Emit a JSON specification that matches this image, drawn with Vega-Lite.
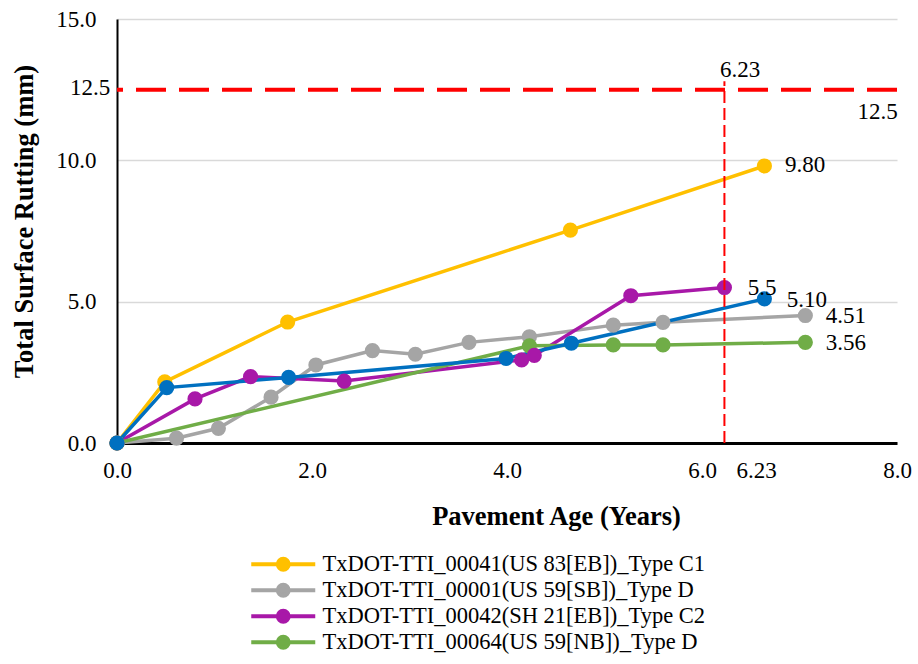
{
  "$schema": "https://vega.github.io/schema/vega-lite/v6.json",
  "autosize": "none",
  "width": 780,
  "height": 424,
  "padding": {"left": 117, "top": 19, "right": 21, "bottom": 221},
  "background": "white",
  "config": {
    "font": "Liberation Serif",
    "view": {"stroke": null},
    "axis": {"labelFont": "Liberation Serif", "titleFont": "Liberation Serif", "labelColor": "black", "titleColor": "black"},
    "text": {"font": "Liberation Serif"}
  },
  "datasets": {
    "series": [
      {"series": "TxDOT-TTI_00041(US 83[EB])_Type C1", "age": 0, "rut": 0},
      {"series": "TxDOT-TTI_00041(US 83[EB])_Type C1", "age": 0.49, "rut": 2.16},
      {"series": "TxDOT-TTI_00041(US 83[EB])_Type C1", "age": 1.75, "rut": 4.28},
      {"series": "TxDOT-TTI_00041(US 83[EB])_Type C1", "age": 4.65, "rut": 7.53},
      {"series": "TxDOT-TTI_00041(US 83[EB])_Type C1", "age": 6.64, "rut": 9.80},
      {"series": "TxDOT-TTI_00001(US 59[SB])_Type D", "age": 0, "rut": 0},
      {"series": "TxDOT-TTI_00001(US 59[SB])_Type D", "age": 0.61, "rut": 0.17},
      {"series": "TxDOT-TTI_00001(US 59[SB])_Type D", "age": 1.04, "rut": 0.52},
      {"series": "TxDOT-TTI_00001(US 59[SB])_Type D", "age": 1.58, "rut": 1.62},
      {"series": "TxDOT-TTI_00001(US 59[SB])_Type D", "age": 2.04, "rut": 2.76},
      {"series": "TxDOT-TTI_00001(US 59[SB])_Type D", "age": 2.62, "rut": 3.27},
      {"series": "TxDOT-TTI_00001(US 59[SB])_Type D", "age": 3.06, "rut": 3.14},
      {"series": "TxDOT-TTI_00001(US 59[SB])_Type D", "age": 3.61, "rut": 3.56},
      {"series": "TxDOT-TTI_00001(US 59[SB])_Type D", "age": 4.23, "rut": 3.76},
      {"series": "TxDOT-TTI_00001(US 59[SB])_Type D", "age": 5.09, "rut": 4.17},
      {"series": "TxDOT-TTI_00001(US 59[SB])_Type D", "age": 5.60, "rut": 4.27},
      {"series": "TxDOT-TTI_00001(US 59[SB])_Type D", "age": 7.06, "rut": 4.51},
      {"series": "TxDOT-TTI_00042(SH 21[EB])_Type C2", "age": 0, "rut": 0},
      {"series": "TxDOT-TTI_00042(SH 21[EB])_Type C2", "age": 0.80, "rut": 1.56},
      {"series": "TxDOT-TTI_00042(SH 21[EB])_Type C2", "age": 1.37, "rut": 2.35},
      {"series": "TxDOT-TTI_00042(SH 21[EB])_Type C2", "age": 2.33, "rut": 2.19},
      {"series": "TxDOT-TTI_00042(SH 21[EB])_Type C2", "age": 4.15, "rut": 2.94},
      {"series": "TxDOT-TTI_00042(SH 21[EB])_Type C2", "age": 4.28, "rut": 3.10},
      {"series": "TxDOT-TTI_00042(SH 21[EB])_Type C2", "age": 5.27, "rut": 5.21},
      {"series": "TxDOT-TTI_00042(SH 21[EB])_Type C2", "age": 6.23, "rut": 5.50},
      {"series": "TxDOT-TTI_00064(US 59[NB])_Type D", "age": 0, "rut": 0},
      {"series": "TxDOT-TTI_00064(US 59[NB])_Type D", "age": 4.23, "rut": 3.44},
      {"series": "TxDOT-TTI_00064(US 59[NB])_Type D", "age": 5.09, "rut": 3.47},
      {"series": "TxDOT-TTI_00064(US 59[NB])_Type D", "age": 5.60, "rut": 3.47},
      {"series": "TxDOT-TTI_00064(US 59[NB])_Type D", "age": 7.06, "rut": 3.56},
      {"series": "Section 5", "age": 0, "rut": 0},
      {"series": "Section 5", "age": 0.51, "rut": 1.96},
      {"series": "Section 5", "age": 1.76, "rut": 2.32},
      {"series": "Section 5", "age": 3.99, "rut": 2.99},
      {"series": "Section 5", "age": 4.66, "rut": 3.53},
      {"series": "Section 5", "age": 6.64, "rut": 5.10}
    ],
    "labelsLeft": [
      {"age": 6.85, "rut": 9.83, "text": "9.80"},
      {"age": 6.47, "rut": 5.48, "text": "5.5"},
      {"age": 6.87, "rut": 5.06, "text": "5.10"},
      {"age": 7.27, "rut": 4.49, "text": "4.51"},
      {"age": 7.27, "rut": 3.54, "text": "3.56"}
    ],
    "labelsCenter": [
      {"age": 7.80, "rut": 11.71, "text": "12.5"},
      {"age": 6.39, "rut": 13.19, "text": "6.23"},
      {"age": 6.56, "rut": -0.98, "text": "6.23"}
    ],
    "labelsRight": [
      {"age": -0.07, "rut": 12.56, "text": "12.5"}
    ]
  },
  "layer": [
    {
      "data": {"name": "series"},
      "mark": {"type": "line", "strokeWidth": 3.5, "point": {"filled": true, "size": 230, "opacity": 1}},
      "encoding": {
        "x": {
          "field": "age", "type": "quantitative",
          "scale": {"domain": [0, 8], "nice": false, "zero": false},
          "axis": {
            "values": [0, 2, 4, 6, 8], "format": ".1f", "grid": false, "ticks": false, "labelFlush": false,
            "domainColor": "black", "domainWidth": 3,
            "labelFont": "Liberation Serif", "labelFontSize": 23, "labelPadding": 16,
            "title": "Pavement Age (Years)", "titleFont": "Liberation Serif", "titleFontSize": 26.5, "titleFontWeight": "bold", "titlePadding": 21, "titleX": 439
          }
        },
        "y": {
          "field": "rut", "type": "quantitative",
          "scale": {"domain": [0, 15], "nice": false, "zero": false},
          "axis": {
            "values": [0, 5, 10, 15], "format": ".1f", "grid": true, "gridColor": "#D9D9D9", "gridWidth": 1.5,
            "ticks": false, "labelFlush": false, "domainColor": "black", "domainWidth": 2,
            "labelFont": "Liberation Serif", "labelFontSize": 23, "labelPadding": 21,
            "title": "Total Surface Rutting (mm)", "titleFont": "Liberation Serif", "titleFontSize": 26.5, "titleFontWeight": "bold", "titlePadding": 17, "titleY": 202
          }
        },
        "color": {
          "field": "series", "type": "nominal",
          "scale": {
            "domain": ["TxDOT-TTI_00041(US 83[EB])_Type C1", "TxDOT-TTI_00001(US 59[SB])_Type D", "TxDOT-TTI_00042(SH 21[EB])_Type C2", "TxDOT-TTI_00064(US 59[NB])_Type D", "Section 5"],
            "range": ["#FFC000", "#A5A5A5", "#A818A8", "#70AD47", "#0070C0"]
          },
          "legend": {
            "values": ["TxDOT-TTI_00041(US 83[EB])_Type C1", "TxDOT-TTI_00001(US 59[SB])_Type D", "TxDOT-TTI_00042(SH 21[EB])_Type C2", "TxDOT-TTI_00064(US 59[NB])_Type D"],
            "title": null,
            "orient": "none", "legendX": 155, "legendY": 534,
            "symbolType": "M-4,0L4,0M0.68,0A0.68,0.68,0,1,1,-0.68,0A0.68,0.68,0,1,1,0.68,0Z",
            "symbolSize": 256, "symbolStrokeWidth": 4,
            "labelFontSize": 22.5, "labelFont": "Liberation Serif", "labelColor": "black", "labelLimit": 600,
            "labelOffset": 28, "rowPadding": -2,
            "encode": {"symbols": {"update": {
              "fill": {"scale": "color", "field": "value"},
              "stroke": {"scale": "color", "field": "value"},
              "strokeWidth": {"value": 4},
              "opacity": {"value": 1}
            }}}
          }
        },
        "order": {"field": "age", "type": "quantitative"}
      }
    },
    {
      "data": {"values": [{}]},
      "mark": {"type": "rule", "color": "#FF0000", "strokeWidth": 4, "strokeDash": [30, 13]},
      "encoding": {"y": {"datum": 12.5}}
    },
    {
      "data": {"values": [{}]},
      "mark": {"type": "rule", "color": "#FF0000", "strokeWidth": 2, "strokeDash": [12, 5]},
      "encoding": {"x": {"datum": 6.23}, "y": {"datum": 0}, "y2": {"datum": 12.8}}
    },
    {
      "data": {"name": "labelsLeft"},
      "mark": {"type": "text", "fontSize": 23, "font": "Liberation Serif", "color": "black", "baseline": "middle", "align": "left"},
      "encoding": {
        "x": {"field": "age", "type": "quantitative"},
        "y": {"field": "rut", "type": "quantitative"},
        "text": {"field": "text"}
      }
    },
    {
      "data": {"name": "labelsCenter"},
      "mark": {"type": "text", "fontSize": 23, "font": "Liberation Serif", "color": "black", "baseline": "middle", "align": "center"},
      "encoding": {
        "x": {"field": "age", "type": "quantitative"},
        "y": {"field": "rut", "type": "quantitative"},
        "text": {"field": "text"}
      }
    },
    {
      "data": {"name": "labelsRight"},
      "mark": {"type": "text", "fontSize": 23, "font": "Liberation Serif", "color": "black", "baseline": "middle", "align": "right"},
      "encoding": {
        "x": {"field": "age", "type": "quantitative"},
        "y": {"field": "rut", "type": "quantitative"},
        "text": {"field": "text"}
      }
    }
  ]
}
